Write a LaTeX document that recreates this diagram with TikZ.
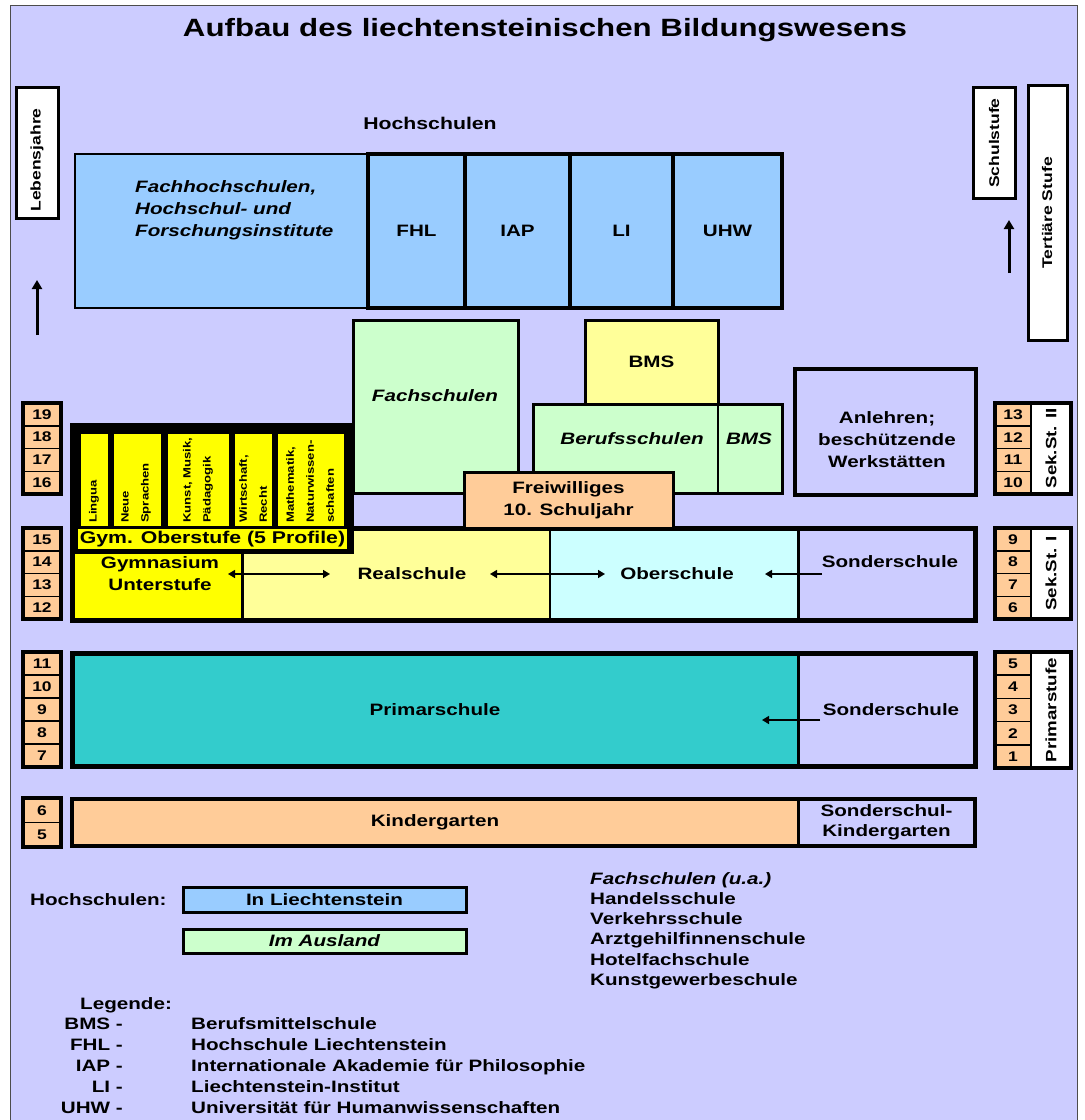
\documentclass[tikz,border=0pt]{standalone}
\usepackage{fontspec}
\setmainfont[FakeStretch=1.25]{Liberation Sans}
\usetikzlibrary{arrows.meta}
\definecolor{bg}{HTML}{CCCCFF}
\definecolor{hsblue}{HTML}{99CCFF}
\definecolor{lgreen}{HTML}{CCFFCC}
\definecolor{lyellow}{HTML}{FFFF99}
\definecolor{gyellow}{HTML}{FFFF00}
\definecolor{peach}{HTML}{FFCC99}
\definecolor{lcyan}{HTML}{CCFFFF}
\definecolor{tealc}{HTML}{33CCCC}
\newcommand\fsz[2]{\fontsize{#1}{#2}\selectfont\bfseries}
\newcommand\bx[7][]{\node[box,#1,minimum width={#5-#3},minimum height={#6-#4}] (#2) at ({(#3+#5)/2},{(#4+#6)/2}) {#7};}
\tikzset{
  box/.style={draw=black, line width=3.5pt, inner sep=0pt, outer sep=0pt, align=center, font=\fsz{16.5}{22}},
  thinbox/.style={box, line width=1.5pt},
  cellb/.style={box, line width=3pt},
  rowframe/.style={box, line width=5pt, fill=none},
  txt/.style={inner sep=0pt, align=center, font=\fsz{16.5}{22}},
  itx/.style={inner sep=0pt, align=center, font={\fsz{16.5}{22}\itshape}},
  rtxt/.style={inner sep=0pt, rotate=90, font=\fsz{14}{14}},
  coltxt/.style={inner sep=0pt, rotate=90, anchor=west, align=left, font=\fsz{10.5}{20}},
  age/.style={draw=black, line width=1.5pt, fill=peach, inner sep=0pt, font=\fsz{14}{14}},
  ageframe/.style={draw=black, line width=3.5pt, fill=none, inner sep=0pt},
  agelbl/.style={draw=black, line width=1.5pt, fill=white, inner sep=0pt},
  arr/.style={line width=1.5pt, -{Triangle[length=7pt,width=8pt]}},
  darr/.style={line width=1.5pt, {Triangle[length=7pt,width=8pt]}-{Triangle[length=7pt,width=8pt]}},
  uarr/.style={line width=3pt, -{Triangle[length=9pt,width=10pt]}}
}
\begin{document}
\begin{tikzpicture}[x=1pt,y=-1pt]
\fill[white] (0,0) rectangle (1085,1120);
\useasboundingbox (0,0) rectangle (1085,1120);
\node[draw=black!70, line width=1.2pt, fill=bg, minimum width=1067, minimum height=1125, anchor=north west, inner sep=0pt] (frame) at (10,5) {};
\node[txt, font=\fsz{25}{30}] (title) at (545,30) {Aufbau des liechtensteinischen Bildungswesens};

% side labels
\bx[fill=white, line width=3pt]{lebens}{16}{87}{58}{218}{}
\node[rtxt] (lebenst) at (37,160) {Lebensjahre};
\bx[fill=white, line width=3pt]{schulst}{973}{87}{1015}{198}{}
\node[rtxt] (schulstt) at (994,143) {Schulstufe};
\bx[fill=white, line width=3pt]{tert}{1028}{85}{1067}{340}{}
\node[rtxt] (tertt) at (1047,213) {Tertiäre Stufe};
\coordinate (la1) at (37,335); \coordinate (la2) at (37,280);
\draw[uarr] (la1) -- (la2);
\coordinate (ra1) at (1009,273); \coordinate (ra2) at (1009,220);
\draw[uarr] (ra1) -- (ra2);

% Hochschulen
\node[txt, font=\fsz{17}{20}] (hsh) at (430,123) {Hochschulen};
\bx[thinbox, fill=hsblue]{fhs}{75}{154}{368}{308}{}
\node[itx, align=left, anchor=north west] (fhst) at (135,180) {Fachhochschulen,\\Hochschul- und\\Forschungsinstitute};
\bx[fill=hsblue]{fhl}{368}{154}{465}{308}{FHL}
\bx[fill=hsblue]{iap}{465}{154}{570}{308}{IAP}
\bx[fill=hsblue]{li}{570}{154}{673}{308}{LI}
\bx[fill=hsblue]{uhw}{673}{154}{782}{308}{UHW}

% Sek II
\bx[cellb, fill=lgreen]{fach}{353}{320}{518}{493}{}
\node[itx] (facht) at (435,396) {Fachschulen};
\bx[cellb, fill=lyellow]{bms}{585}{320}{718}{404}{BMS}
\bx[cellb, line width=1.5pt, fill=lgreen]{berufl}{533}{404}{718}{493}{}
\bx[cellb, line width=1.5pt, fill=lgreen]{berufr}{718}{404}{782}{493}{}
\bx[cellb, fill=none]{beruff}{533}{404}{782}{493}{}
\node[itx] (beruft) at (632,439) {Berufsschulen};
\node[itx] (bmst) at (749,439) {BMS};
\bx[box, line width=4.5pt, fill=bg]{anl}{795}{369}{976}{495}{}
\node[txt] (anlt) at (887,440) {Anlehren;\\beschützende\\Werkstätten};

% Sek I row
\bx[cellb, fill=gyellow]{gymu}{72}{528}{242}{620}{}
\bx[cellb, fill=lyellow]{real}{242}{528}{550}{620}{}
\bx[cellb, line width=2pt, fill=lcyan]{ober}{550}{528}{798}{620}{}
\bx[cellb, fill=bg]{sond1}{798}{528}{975}{620}{}
\bx[rowframe]{sek1f}{72}{528}{975}{620}{}
\bx[cellb, fill=peach]{frei}{464}{472}{673}{528}{Freiwilliges\\10. Schuljahr}

% Gymnasium Oberstufe
\bx[fill=black, line width=1pt]{gymo}{70}{423}{353}{553}{}
\bx[fill=gyellow, line width=1pt]{c1}{80}{433}{108}{526}{}
\bx[fill=gyellow, line width=1pt]{c2}{113}{433}{161}{526}{}
\bx[fill=gyellow, line width=1pt]{c3}{167}{433}{229}{526}{}
\bx[fill=gyellow, line width=1pt]{c4}{234}{433}{272}{526}{}
\bx[fill=gyellow, line width=1pt]{c5}{277}{433}{344}{526}{}
\node[coltxt] (c1t) at (94,523) {Lingua};
\node[coltxt] (c2t) at (136,523) {Neue\\Sprachen};
\node[coltxt] (c3t) at (198,523) {Kunst, Musik,\\Pädagogik};
\node[coltxt] (c4t) at (253,523) {Wirtschaft,\\Recht};
\node[coltxt] (c5t) at (310,523) {Mathematik,\\Naturwissen-\\schaften};
\bx[fill=gyellow, line width=1.5pt, font=\fsz{17}{20}]{gymbar}{77}{528}{348}{550}{Gym. Oberstufe (5 Profile)}

\node[txt] (gymut) at (160,574) {Gymnasium\\Unterstufe};
\node[txt] (realt) at (412,574) {Realschule};
\node[txt] (obert) at (677,574) {Oberschule};
\node[txt] (sond1t) at (890,562) {Sonderschule};
\coordinate (ga1) at (228,574); \coordinate (ga2) at (330,574);
\draw[darr] (ga1) -- (ga2);
\coordinate (rb1) at (490,574); \coordinate (rb2) at (605,574);
\draw[darr] (rb1) -- (rb2);
\coordinate (sa1) at (822,574); \coordinate (sa2) at (765,574);
\draw[arr] (sa1) -- (sa2);

% Primar row
\bx[cellb, fill=tealc]{prim}{72}{653}{798}{766}{Primarschule}
\bx[cellb, fill=bg]{sond2}{798}{653}{975}{766}{}
\bx[rowframe]{primf}{72}{653}{975}{766}{}
\node[txt] (sond2t) at (891,710) {Sonderschule};
\coordinate (pa1) at (820,720); \coordinate (pa2) at (762,720);
\draw[arr] (pa1) -- (pa2);

% Kindergarten row
\bx[cellb, fill=peach]{kiga}{72}{799}{798}{846}{Kindergarten}
\bx[cellb, fill=bg, font=\fsz{16.5}{20}]{skiga}{798}{799}{975}{846}{Sonderschul-\\Kindergarten}
\bx[rowframe, line width=4.5pt]{kigaf}{72}{799}{975}{846}{}

% left ages
\foreach \n [count=\i from 0] in {19,18,17,16}
  \node[age, minimum width=38, minimum height=22.75] (L\n) at (42,{403+22.75*(\i+0.5)}) {\n};
\node[ageframe, minimum width=38, minimum height=91] (lg1) at (42,448.5) {};
\foreach \n [count=\i from 0] in {15,14,13,12}
  \node[age, minimum width=38, minimum height=22.75] (L\n) at (42,{528+22.75*(\i+0.5)}) {\n};
\node[ageframe, minimum width=38, minimum height=91] (lg2) at (42,573.5) {};
\foreach \n [count=\i from 0] in {11,10,9,8,7}
  \node[age, minimum width=38, minimum height=23] (L\n) at (42,{652+23*(\i+0.5)}) {\n};
\node[ageframe, minimum width=38, minimum height=115] (lg3) at (42,709.5) {};
\foreach \n [count=\i from 0] in {6,5}
  \node[age, minimum width=38, minimum height=24.5] (L\n) at (42,{798+24.5*(\i+0.5)}) {\n};
\node[ageframe, minimum width=38, minimum height=49] (lg4) at (42,822.5) {};

% right school levels
\foreach \n [count=\i from 0] in {13,12,11,10}
  \node[age, minimum width=36, minimum height=22.75] (R\n) at (1013,{403+22.75*(\i+0.5)}) {\n};
\node[agelbl, minimum width=40, minimum height=91] (rl1) at (1051,448.5) {};
\node[rtxt, font=\fsz{15}{15}] (rl1t) at (1051,448.5) {Sek.St. II};
\node[ageframe, minimum width=76, minimum height=91] (rg1) at (1033,448.5) {};
\foreach \n [count=\i from 0] in {9,8,7,6}
  \node[age, minimum width=36, minimum height=22.75] (R\n) at (1013,{528+22.75*(\i+0.5)}) {\n};
\node[agelbl, minimum width=40, minimum height=91] (rl2) at (1051,573.5) {};
\node[rtxt, font=\fsz{15}{15}] (rl2t) at (1051,573.5) {Sek.St. I};
\node[ageframe, minimum width=76, minimum height=91] (rg2) at (1033,573.5) {};
\foreach \n [count=\i from 0] in {5,4,3,2,1}
  \node[age, minimum width=36, minimum height=23.2] (R\n) at (1013,{652+23.2*(\i+0.5)}) {\n};
\node[agelbl, minimum width=40, minimum height=116] (rl3) at (1051,710) {};
\node[rtxt, font=\fsz{15}{15}] (rl3t) at (1051,710) {Primarstufe};
\node[ageframe, minimum width=76, minimum height=116] (rg3) at (1033,710) {};

% legend
\node[txt, anchor=base west] (hsl) at (30,905) {Hochschulen:};
\bx[fill=hsblue, line width=3pt]{inl}{183}{887}{466}{912}{In Liechtenstein}
\bx[fill=lgreen, line width=3pt]{ausl}{183}{929}{466}{953}{\itshape Im Ausland}
\node[itx, anchor=base west] (fs0) at (590,884) {Fachschulen (u.a.)};
\foreach \t [count=\i] in {Handelsschule,Verkehrsschule,Arztgehilfinnenschule,Hotelfachschule,Kunstgewerbeschule}
  \node[txt, anchor=base west] (fs\i) at (590,{884+20.3*\i}) {\t};
\node[txt, anchor=base west] (leg) at (80,1009) {Legende:};
\foreach \a/\d [count=\i from 0] in {BMS -/Berufsmittelschule,FHL -/Hochschule Liechtenstein,IAP -/Internationale Akademie für Philosophie,LI -/Liechtenstein-Institut,UHW -/Universität für Humanwissenschaften}{
  \node[txt, anchor=base east] (ab\i) at (123,{1029+21.2*\i}) {\a};
  \node[txt, anchor=base west] (de\i) at (191,{1029+21.2*\i}) {\d};
}
\end{tikzpicture}
\end{document}
